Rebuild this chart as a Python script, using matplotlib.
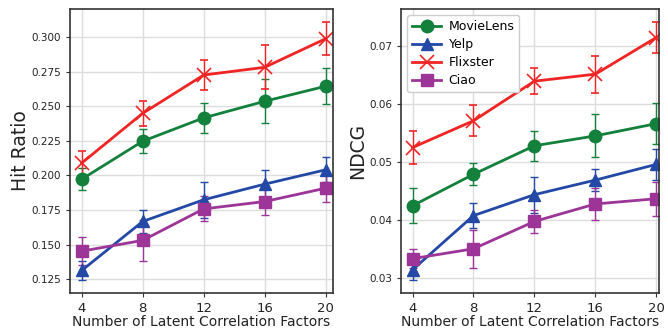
"""
Sensitivity to the number of latent correlation factors.
Hit Ratio (left) and NDCG (right) for four datasets, with error bars.
"""

import numpy as np
import matplotlib
matplotlib.use("Agg")
import matplotlib.pyplot as plt


factors = [4, 8, 12, 16, 20]
datasets = ["MovieLens", "Yelp", "Flixster", "Ciao"]

# Hit Ratio (mean, error)
hr_movielens = [0.1973, 0.2248, 0.2417, 0.2537, 0.2646]
hr_movielens_err = [0.008, 0.0085, 0.011, 0.016, 0.013]
hr_yelp = [0.1312, 0.1667, 0.1824, 0.1937, 0.2041]
hr_yelp_err = [0.007, 0.0085, 0.013, 0.010, 0.009]
hr_flixster = [0.2090, 0.2450, 0.2727, 0.2783, 0.2990]
hr_flixster_err = [0.009, 0.009, 0.011, 0.016, 0.012]
hr_ciao = [0.1452, 0.1530, 0.1758, 0.1811, 0.1908]
hr_ciao_err = [0.010, 0.015, 0.009, 0.010, 0.010]

# NDCG (mean, error)
ndcg_movielens = [0.0425, 0.0479, 0.0528, 0.0545, 0.0566]
ndcg_movielens_err = [0.0030, 0.0019, 0.0026, 0.0037, 0.0035]
ndcg_yelp = [0.0315, 0.0408, 0.0444, 0.0469, 0.0496]
ndcg_yelp_err = [0.0018, 0.0021, 0.0031, 0.0019, 0.0027]
ndcg_flixster = [0.0525, 0.0571, 0.0639, 0.0651, 0.0714]
ndcg_flixster_err = [0.0029, 0.0027, 0.0022, 0.0032, 0.0027]
ndcg_ciao = [0.0334, 0.0351, 0.0398, 0.0428, 0.0437]
ndcg_ciao_err = [0.0016, 0.0033, 0.0020, 0.0027, 0.0029]

hr_ticks = [0.125, 0.150, 0.175, 0.200, 0.225, 0.250, 0.275, 0.300]
ndcg_ticks = [0.03, 0.04, 0.05, 0.06, 0.07]

COLORS = {
    "MovieLens": "#13803c",
    "Yelp":      "#2348a6",
    "Flixster":  "#f02424",
    "Ciao":      "#9c3597",
}
MARKERS = {"MovieLens": "o", "Yelp": "^", "Flixster": "x", "Ciao": "s"}

plt.rcParams["font.family"] = ["DejaVu Sans"]


def draw_panel(ax, series, ylabel, yticks, ylim, xlim, fmt):
    for name, (vals, errs) in series.items():
        mk = MARKERS[name]
        ax.errorbar(factors, vals, yerr=errs, color=COLORS[name], marker=mk,
                    markersize=9 if mk != "x" else 10,
                    markeredgewidth=1.0 if mk != "x" else 1.2,
                    linewidth=2.0, elinewidth=1.0, capsize=3, capthick=1.0,
                    label=name)
    ax.set_xticks(factors)
    ax.set_yticks(yticks)
    ax.set_yticklabels([fmt.format(t) for t in yticks])
    ax.set_xlim(*xlim)
    ax.set_ylim(*ylim)
    ax.grid(True, color="#dddddd", linewidth=1.0)
    ax.set_axisbelow(True)
    for sp in ax.spines.values():
        sp.set_color("#333333")
        sp.set_linewidth(1.2)
    ax.tick_params(axis="y", labelsize=7.5, length=3, color="#333333", labelcolor="#222222")
    ax.tick_params(axis="x", labelsize=9.5, length=3, color="#333333", labelcolor="#222222")
    ax.set_xlabel("Number of Latent Correlation Factors", fontsize=10, color="#222222", labelpad=0)
    ax.set_ylabel(ylabel, fontsize=13.5, color="#222222", labelpad=1)


fig = plt.figure(figsize=(6.68, 3.28), dpi=100)
ax1 = fig.add_axes([70 / 668, 1 - 293 / 328, 263 / 668, 284 / 328])
ax2 = fig.add_axes([401 / 668, 1 - 293 / 328, 258 / 668, 284 / 328])

draw_panel(ax1, {
    "MovieLens": (hr_movielens, hr_movielens_err),
    "Yelp":      (hr_yelp, hr_yelp_err),
    "Flixster":  (hr_flixster, hr_flixster_err),
    "Ciao":      (hr_ciao, hr_ciao_err),
}, "Hit Ratio", hr_ticks, (0.1149, 0.3205), (3.23, 20.48), "{:.3f}")

draw_panel(ax2, {
    "MovieLens": (ndcg_movielens, ndcg_movielens_err),
    "Yelp":      (ndcg_yelp, ndcg_yelp_err),
    "Flixster":  (ndcg_flixster, ndcg_flixster_err),
    "Ciao":      (ndcg_ciao, ndcg_ciao_err),
}, "NDCG", ndcg_ticks, (0.0275, 0.0763), (3.24, 20.18), "{:.2f}")

# legend shows line + marker only, no error bar glyph
handles, labels = ax2.get_legend_handles_labels()
handles = [h[0] for h in handles]
ax2.legend(handles, labels, loc="upper left", fontsize=9, frameon=True,
           framealpha=1.0, edgecolor="#cccccc", borderpad=0.4,
           handlelength=2.3, labelspacing=0.4, handletextpad=0.6)

fig.savefig("out.png", dpi=100)
